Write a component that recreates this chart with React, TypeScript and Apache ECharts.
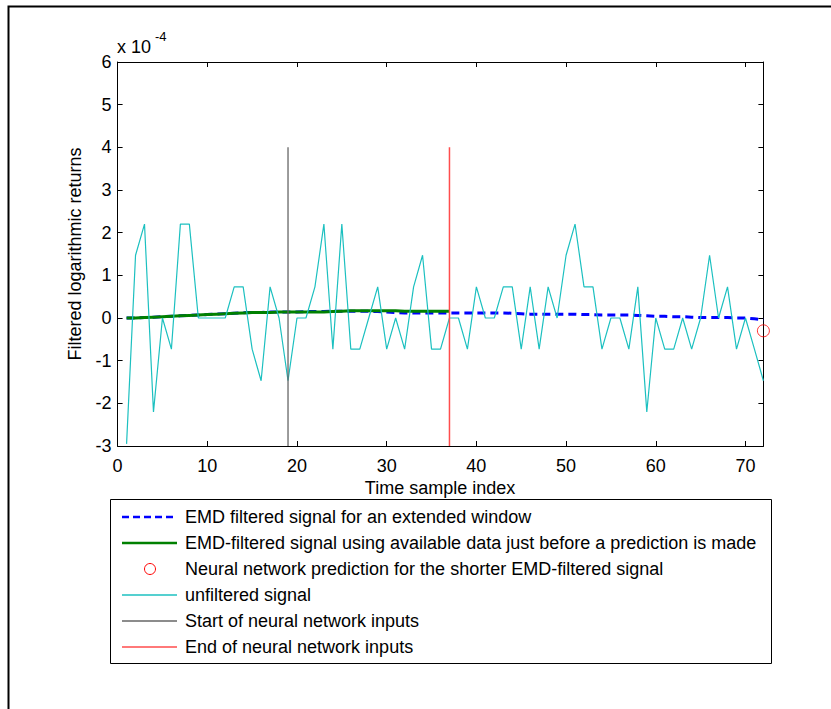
import React, { useEffect, useRef } from "react";
import * as echarts from "echarts";

// All values are in units of 1e-4 (the axis carries the "x 10^-4" multiplier).
const unfilteredSignal = [
  -2.95, 1.47, 2.2, -2.2, 0, -0.73, 2.2, 2.2, 0, 0,
  0, 0, 0.73, 0.73, -0.73, -1.47, 0.73, 0, -1.47, 0,
  0, 0.73, 2.2, -0.73, 2.2, -0.73, -0.73, 0, 0.73, -0.73,
  0, -0.73, 0.73, 1.47, -0.73, -0.73, 0, 0, -0.73, 0.73,
  0, 0, 0.73, 0.73, -0.73, 0.73, -0.73, 0.73, 0, 1.47,
  2.2, 0.73, 0.73, -0.73, 0, 0, -0.73, 0.73, -2.2, 0,
  -0.73, -0.73, 0, -0.73, 0, 1.47, 0, 0.73, -0.73, 0,
  -0.73, -1.47,
];

const emdExtended = [
  0.0, 0.0, 0.01, 0.02, 0.03, 0.04, 0.05, 0.06, 0.07, 0.08,
  0.09, 0.1, 0.11, 0.12, 0.13, 0.13, 0.14, 0.14, 0.14, 0.14,
  0.15, 0.15, 0.15, 0.16, 0.16, 0.16, 0.16, 0.16, 0.15, 0.14,
  0.13, 0.12, 0.12, 0.12, 0.12, 0.12, 0.12, 0.12, 0.12, 0.12,
  0.12, 0.12, 0.12, 0.11, 0.1, 0.09, 0.09, 0.09, 0.09, 0.09,
  0.09, 0.08, 0.08, 0.07, 0.07, 0.07, 0.07, 0.06, 0.05, 0.04,
  0.04, 0.03, 0.03, 0.02, 0.01, 0.01, 0.01, 0.01, 0.0, 0.0,
  -0.02, -0.04,
];

const emdAvailable = [
  0.0, 0.0, 0.01, 0.02, 0.03, 0.04, 0.05, 0.06, 0.07, 0.08,
  0.09, 0.1, 0.11, 0.12, 0.13, 0.13, 0.13, 0.14, 0.14, 0.14,
  0.14, 0.14, 0.14, 0.15, 0.16, 0.17, 0.17, 0.17, 0.17, 0.17,
  0.17, 0.16, 0.16, 0.16, 0.16, 0.16, 0.16,
];

const prediction = { index: 72, value: -0.3 };
const inputStart = 19;
const inputEnd = 37;
const markerRange = [-3, 4];

const xTicks = [0, 10, 20, 30, 40, 50, 60, 70];
const yTicks = [-3, -2, -1, 0, 1, 2, 3, 4, 5, 6];

const legendLabels = [
  "EMD filtered signal for an extended window",
  "EMD-filtered signal using available data just before a prediction is made",
  "Neural network prediction for the shorter EMD-filtered signal",
  "unfiltered signal",
  "Start of neural network inputs",
  "End of neural network inputs",
];

const FONT = "'Liberation Sans', Arial, Helvetica, sans-serif";
const FS = 18;
const CYAN = "#1cc0c0";
const BLUE = "#0000ff";
const GREEN = "#008000";
const GREY = "#666666";
const RED = "#ff4d4d";

const toPoints = (vals: number[]) => vals.map((v, i) => [i + 1, v]);

export default function App() {
  const ref = useRef<HTMLDivElement>(null);

  useEffect(() => {
    if (!ref.current) return;
    const chart = echarts.init(ref.current, null, { renderer: "svg" });

    const grid = { left: 117.6, top: 62, width: 645.8, height: 384 };
    const legendX = 110;
    const legendTop = 499;
    const rowGap = 26;
    const rowY = (i: number) => legendTop + 18 + i * rowGap;

    const sample = (i: number, stroke: string, lineWidth: number, lineDash?: number[]) => ({
      type: "line",
      shape: { x1: 122, y1: rowY(i), x2: 177, y2: rowY(i) },
      style: lineDash ? { stroke, lineWidth, lineDash } : { stroke, lineWidth },
      z: 11,
    });

    const legendGraphics: any[] = [
      {
        type: "rect",
        shape: { x: legendX + 0.5, y: legendTop + 0.5, width: 661, height: 164 },
        style: { fill: "#fff", stroke: "#000", lineWidth: 1 },
        z: 10,
      },
      sample(0, BLUE, 2.5, [7, 4]),
      sample(1, GREEN, 2.5),
      {
        type: "circle",
        shape: { cx: 150, cy: rowY(2), r: 5.5 },
        style: { fill: "none", stroke: "#ff0000", lineWidth: 1 },
        z: 11,
      },
      sample(3, CYAN, 1.5),
      sample(4, GREY, 1.5),
      sample(5, RED, 1.5),
      ...legendLabels.map((t, i) => ({
        type: "text",
        x: 185,
        y: rowY(i),
        style: {
          text: t,
          fill: "#000",
          font: `${FS}px ${FONT}`,
          verticalAlign: "middle",
          align: "left",
        },
        z: 11,
      })),
    ];

    const boxAxis = (pos: string, extra: any) => ({
      type: "value",
      position: pos,
      axisLine: { show: true, onZero: false, lineStyle: { color: "#000", width: 1 } },
      axisTick: { show: true, inside: true, length: 5, lineStyle: { color: "#000" } },
      splitLine: { show: false },
      ...extra,
    });

    const option: any = {
      animation: false,
      backgroundColor: "#fff",
      grid: { ...grid, containLabel: false },
      xAxis: [
        boxAxis("bottom", {
          min: 0,
          max: 72,
          interval: 10,
          axisLabel: {
            color: "#000",
            fontSize: FS,
            fontFamily: FONT,
            margin: 11,
            formatter: (v: number) => (xTicks.includes(v) ? String(v) : ""),
          },
        }),
        boxAxis("top", { min: 0, max: 72, interval: 10, axisLabel: { show: false } }),
      ],
      yAxis: [
        boxAxis("left", {
          min: -3,
          max: 6,
          interval: 1,
          axisLabel: {
            color: "#000",
            fontSize: FS,
            fontFamily: FONT,
            margin: 6,
            formatter: (v: number) => (yTicks.includes(v) ? String(v) : ""),
          },
        }),
        boxAxis("right", { min: -3, max: 6, interval: 1, axisLabel: { show: false } }),
      ],
      series: [
        {
          name: legendLabels[0],
          type: "line",
          data: toPoints(emdExtended),
          showSymbol: false,
          itemStyle: { color: BLUE },
          lineStyle: { color: BLUE, width: 3, type: [8, 5] },
          z: 3,
        },
        {
          name: legendLabels[1],
          type: "line",
          data: toPoints(emdAvailable),
          showSymbol: false,
          itemStyle: { color: GREEN },
          lineStyle: { color: GREEN, width: 3 },
          z: 4,
        },
        {
          name: legendLabels[2],
          type: "scatter",
          data: [[prediction.index, prediction.value]],
          symbol: "circle",
          symbolSize: 12,
          itemStyle: { color: "transparent", borderColor: "#ff0000", borderWidth: 1 },
          clip: false,
          z: 7,
        },
        {
          name: legendLabels[3],
          type: "line",
          data: toPoints(unfilteredSignal),
          showSymbol: false,
          itemStyle: { color: CYAN },
          lineStyle: { color: CYAN, width: 1.2 },
          z: 5,
        },
        {
          name: legendLabels[4],
          type: "line",
          data: [
            [inputStart, markerRange[0]],
            [inputStart, markerRange[1]],
          ],
          showSymbol: false,
          itemStyle: { color: GREY },
          lineStyle: { color: GREY, width: 1.3 },
          z: 6,
        },
        {
          name: legendLabels[5],
          type: "line",
          data: [
            [inputEnd, markerRange[0]],
            [inputEnd, markerRange[1]],
          ],
          showSymbol: false,
          itemStyle: { color: RED },
          lineStyle: { color: RED, width: 1.5 },
          z: 6,
        },
      ],
      graphic: [
        {
          type: "rect",
          shape: { x: 8.5, y: 6.5, width: 900, height: 900 },
          style: { fill: "none", stroke: "#000", lineWidth: 2 },
          z: 1,
        },
        {
          type: "text",
          x: 117,
          y: 47,
          style: {
            text: "x 10",
            fill: "#000",
            font: `${FS}px ${FONT}`,
            verticalAlign: "middle",
          },
        },
        {
          type: "text",
          x: 155,
          y: 36,
          style: {
            text: "-4",
            fill: "#000",
            font: `13px ${FONT}`,
            verticalAlign: "middle",
          },
        },
        {
          type: "text",
          x: 75,
          y: 254,
          rotation: Math.PI / 2,
          style: {
            text: "Filtered logarithmic returns",
            fill: "#000",
            font: `${FS}px ${FONT}`,
            align: "center",
            verticalAlign: "middle",
          },
        },
        {
          type: "text",
          x: 440,
          y: 488,
          style: {
            text: "Time sample index",
            fill: "#000",
            font: `${FS}px ${FONT}`,
            align: "center",
            verticalAlign: "middle",
          },
        },
        ...legendGraphics,
      ],
    };

    chart.setOption(option);
    return () => chart.dispose();
  }, []);

  return (
    <div
      ref={ref}
      style={{ position: "fixed", left: 0, top: 0, width: 831, height: 709, background: "#fff" }}
    />
  );
}
